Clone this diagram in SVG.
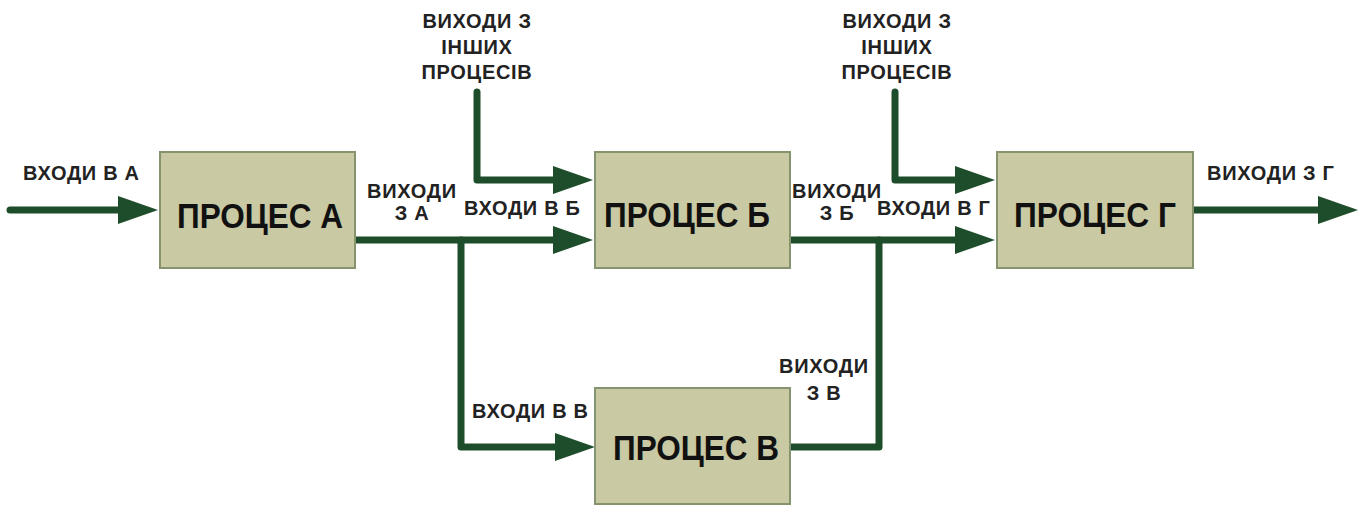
<svg xmlns="http://www.w3.org/2000/svg" width="1367" height="507" viewBox="0 0 1367 507">
  <style>
    .box { fill: #c9c9a3; stroke: #86936f; stroke-width: 2; }
    .title { font-family: "Liberation Sans", Arial, sans-serif; font-weight: bold; font-size: 35px; fill: #111; text-anchor: middle; }
    .lbl { font-family: "Liberation Sans", Arial, sans-serif; font-weight: bold; font-size: 20px; letter-spacing: 0.7px; fill: #222; }
    .mid { text-anchor: middle; }
    .flow { fill: none; stroke: #1e4d2b; stroke-width: 7; stroke-linecap: round; stroke-linejoin: round; marker-end: url(#head); }
    .link { fill: none; stroke: #1e4d2b; stroke-width: 7; stroke-linecap: round; stroke-linejoin: round; }
  </style>
  <defs>
    <marker id="head" markerUnits="userSpaceOnUse" markerWidth="40" markerHeight="28" refX="10" refY="14" orient="auto">
      <path d="M0,0 L40,14 L0,28 z" fill="#1e4d2b"/>
    </marker>
  </defs>
  <rect width="1367" height="507" fill="#ffffff"/>

  <!-- connectors -->
  <g id="connectors">
    <path class="flow" d="M10,210 H128"/>
    <path class="flow" d="M355,240 H563"/>
    <path class="flow" d="M461,240 V447 H565"/>
    <path class="flow" d="M477,92 V180 H563"/>
    <path class="flow" d="M790,240 H965"/>
    <path class="link" d="M790,447 H879 V240"/>
    <path class="flow" d="M895,92 V180 H965"/>
    <path class="flow" d="M1193,210 H1328"/>
  </g>

  <!-- processes -->
  <g id="process-a">
    <rect class="box" x="160" y="152" width="195" height="116"/>
    <text class="title" x="260" y="228" textLength="166" lengthAdjust="spacingAndGlyphs">ПРОЦЕС А</text>
  </g>
  <g id="process-b">
    <rect class="box" x="595" y="152" width="195" height="116"/>
    <text class="title" x="687" y="227" textLength="166" lengthAdjust="spacingAndGlyphs">ПРОЦЕС Б</text>
  </g>
  <g id="process-v">
    <rect class="box" x="595" y="388" width="195" height="116"/>
    <text class="title" x="696" y="460" textLength="166" lengthAdjust="spacingAndGlyphs">ПРОЦЕС В</text>
  </g>
  <g id="process-g">
    <rect class="box" x="997" y="152" width="196" height="116"/>
    <text class="title" x="1095" y="227" textLength="162" lengthAdjust="spacingAndGlyphs">ПРОЦЕС Г</text>
  </g>

  <!-- flow labels -->
  <g id="labels">
    <text class="lbl" x="23" y="180">ВХОДИ В А</text>
    <text class="lbl mid" x="412" y="198">ВИХОДИ</text>
    <text class="lbl mid" x="412" y="220">З А</text>
    <text class="lbl" x="464" y="215">ВХОДИ В Б</text>
    <text class="lbl mid" x="477" y="28">ВИХОДИ З</text>
    <text class="lbl mid" x="477" y="54">ІНШИХ</text>
    <text class="lbl mid" x="477" y="79">ПРОЦЕСІВ</text>
    <text class="lbl mid" x="837" y="198">ВИХОДИ</text>
    <text class="lbl mid" x="837" y="220">З Б</text>
    <text class="lbl" x="877" y="215">ВХОДИ В Г</text>
    <text class="lbl mid" x="897" y="28">ВИХОДИ З</text>
    <text class="lbl mid" x="897" y="54">ІНШИХ</text>
    <text class="lbl mid" x="897" y="79">ПРОЦЕСІВ</text>
    <text class="lbl" x="1207" y="180">ВИХОДИ З Г</text>
    <text class="lbl mid" x="824" y="373">ВИХОДИ</text>
    <text class="lbl mid" x="824" y="400">З В</text>
    <text class="lbl" x="472" y="418">ВХОДИ В В</text>
  </g>
</svg>
